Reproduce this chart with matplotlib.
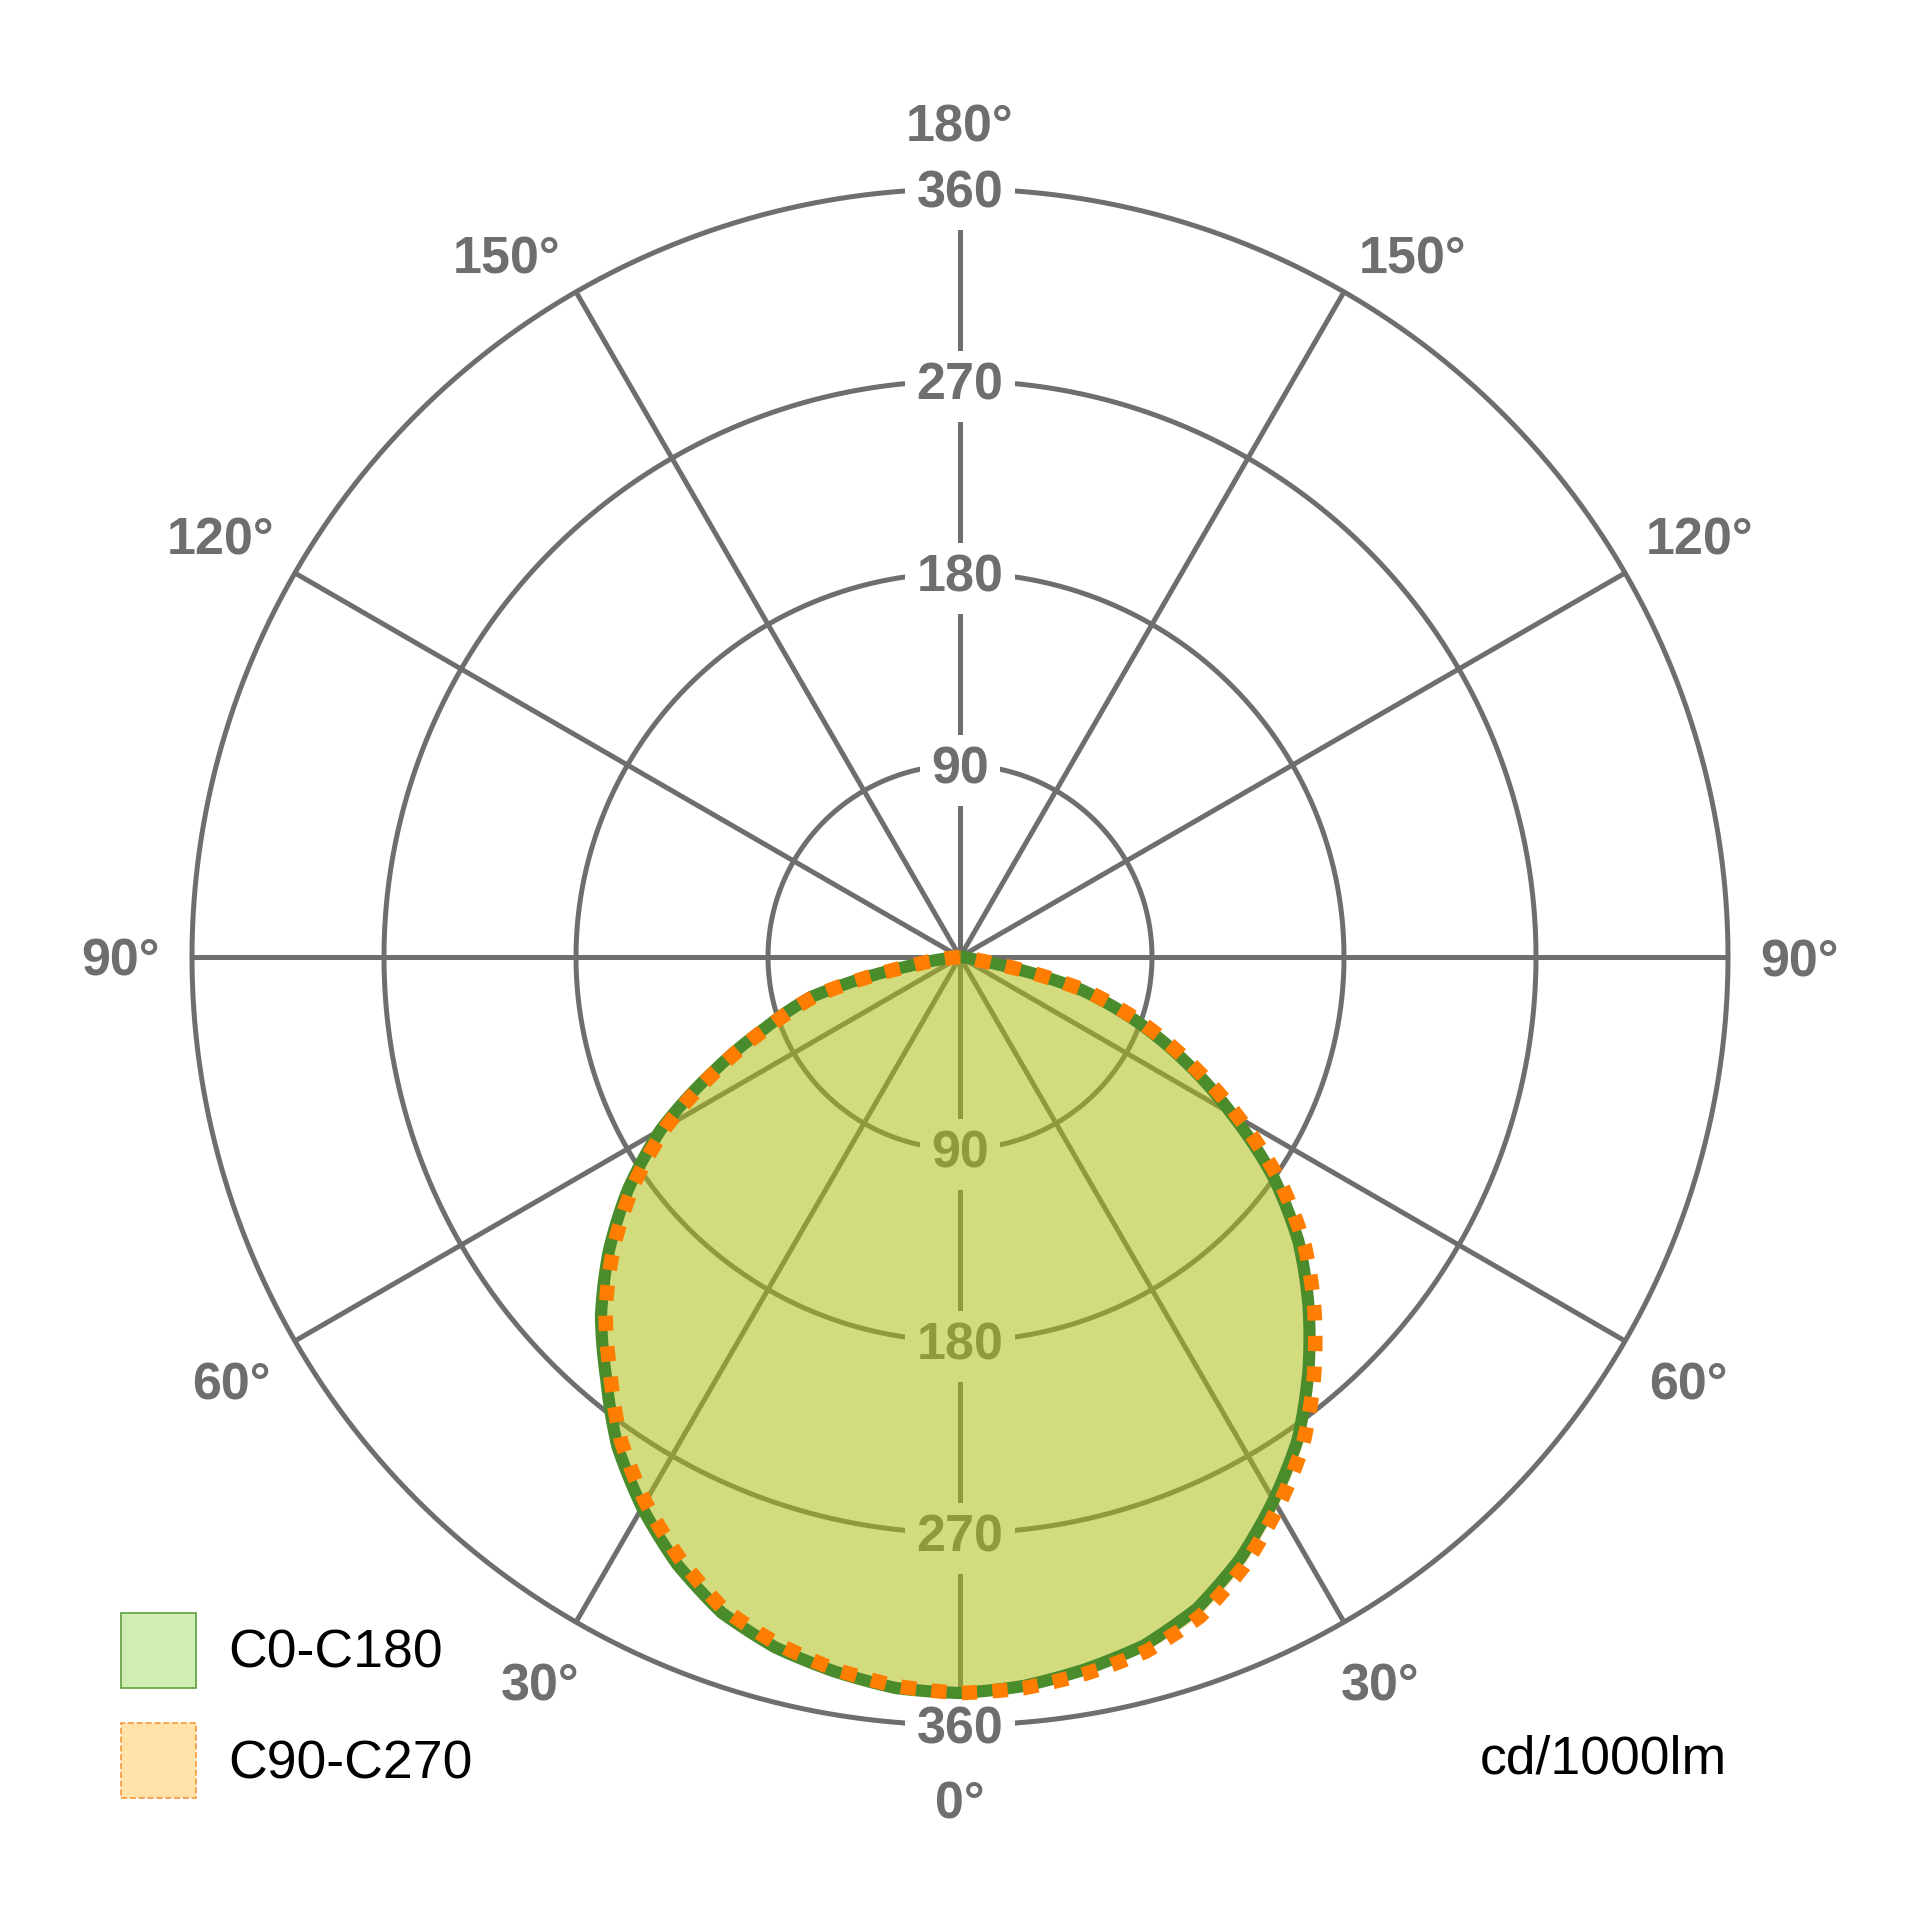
import numpy as np
import matplotlib
matplotlib.use("Agg")
import matplotlib.pyplot as plt
from matplotlib.patches import Patch

# ---------------- data (cd/1000lm) ----------------
gamma_deg = [0, 5, 10, 15, 20, 25, 30, 35, 40, 45, 50, 55, 60, 65, 70, 75, 80, 85, 90]
# C0-C180 plane : right half (C0) and left half (C180)
c0_cd   = [345, 343, 339, 334, 325, 311, 294, 276, 254, 231, 207, 179, 147, 117, 88, 58, 8, 0, 0]
c180_cd = [345, 344, 340, 335, 327, 314, 298, 280, 258, 238, 215, 190, 162, 128, 97, 72, 24, 0, 0]
# C90-C270 plane : right half (C90) and left half (C270)
c90_cd  = [346, 344, 341, 337, 329, 315, 298, 280, 258, 235, 211, 183, 151, 120, 91, 61, 10, 0, 0]
c270_cd = [345, 343, 339, 333, 325, 311, 295, 277, 255, 235, 212, 187, 159, 126, 95, 70, 22, 0, 0]

ring_values = [90, 180, 270, 360]
angle_ticks = [0, 30, 60, 90, 120, 150, 180]
angle_labels = ["0°", "30°", "60°", "90°", "120°", "150°", "180°"]
series_names = ["C0-C180", "C90-C270"]
unit_label = "cd/1000lm"

# ---------------- style / layout ----------------
GRAY = "#6e6e6e"
GREEN_LINE = "#4a8c2c"
ORANGE_LINE = "#ff7d00"
GREEN_FILL = "#81ca11"
ORANGE_FILL = "#ffaa1e"
FONT = "Liberation Sans"
LABEL_FS = 37.5
# (angle offset in degrees, radius in cd) used to place each angle label
label_place = {0: (0.0, 395), 30: (0.1, 392.5), 60: (-0.2, 395), 90: (0.0, 393.5),
               120: (-0.3, 399), 150: (-2.8, 392), 180: (0.0, 391)}

fig = plt.figure(figsize=(19.19, 19.20), dpi=100)
ax = fig.add_axes([192 / 1919, 195 / 1920, 1536 / 1919, 1536 / 1920], projection="polar")
ax.set_theta_zero_location("S")
ax.set_theta_direction(1)
ax.set_ylim(0, 360)
ax.grid(False)
ax.set_xticks([])
ax.set_yticks([])
ax.spines["polar"].set_visible(False)
ax.patch.set_visible(False)

# grid rings
full = np.linspace(0, 2 * np.pi, 721)
for rv in ring_values:
    ax.plot(full, np.full_like(full, rv), color=GRAY, lw=3.6, zorder=1, clip_on=False)

# spokes
for a in angle_ticks:
    for sgn in ([1] if a in (0, 180) else [1, -1]):
        t = np.deg2rad(sgn * a)
        ax.plot([t, t], [0, 360], color=GRAY, lw=3.6, zorder=1,
                solid_capstyle="butt", clip_on=False)

# radial value labels (top and bottom of the vertical axis)
for rv in ring_values:
    for th in (0.0, np.pi):
        ax.text(th, rv, str(rv), ha="center", va="center_baseline", fontsize=LABEL_FS,
                fontweight="bold", color=GRAY, family=FONT, zorder=2, clip_on=False,
                bbox=dict(boxstyle="square,pad=0.22", fc="white", ec="none"))

# angle labels
for a, lab in zip(angle_ticks, angle_labels):
    d, rr = label_place[a]
    for sgn in ([1] if a in (0, 180) else [1, -1]):
        ax.text(np.deg2rad(sgn * (a + d)), rr, lab, ha="center", va="center_baseline",
                fontsize=LABEL_FS, fontweight="bold", color=GRAY, family=FONT,
                clip_on=False, zorder=2)

# curves: left half (negative theta) then right half
g = np.array(gamma_deg, dtype=float)
theta = np.deg2rad(np.concatenate([-g[::-1], g[1:]]))
r_green = np.concatenate([np.array(c180_cd)[::-1], np.array(c0_cd)[1:]])
r_orange = np.concatenate([np.array(c270_cd)[::-1], np.array(c90_cd)[1:]])

fo = ax.fill(theta, r_orange, color=ORANGE_FILL, alpha=0.30, lw=0, zorder=3)[0]
fg = ax.fill(theta, r_green, color=GREEN_FILL, alpha=0.35, lw=0, zorder=3.1)[0]
lg = ax.plot(theta, r_green, color=GREEN_LINE, lw=8.8, zorder=4, solid_joinstyle="round")[0]
lo = ax.plot(theta, r_orange, color=ORANGE_LINE, lw=10.5, linestyle=(0, (1.05, 1.05)),
             dash_capstyle="butt", zorder=5)[0]
# draw segments along polar coordinates (curved), as polar grid lines are
for art in (fo, fg, lg, lo):
    art.get_path()._interpolation_steps = 24

# legend
handles = [Patch(facecolor="#d0eeb4", edgecolor="#5f9e3f", lw=1.2),
           Patch(facecolor="#ffe3a8", edgecolor="#f39a3c", lw=1.2, linestyle="--")]
fig.legend(handles=handles, labels=series_names, loc="upper left",
           bbox_to_anchor=(121 / 1919, 1 - 1613 / 1920), frameon=False,
           prop={"family": FONT, "size": 38.5}, handlelength=1.4, handleheight=1.78,
           handletextpad=0.6, labelspacing=0.66, borderpad=0, borderaxespad=0)

fig.text(1727 / 1919, 1 - 1760 / 1920, unit_label, ha="right", va="center",
         fontsize=38.5, family=FONT, color="black")

fig.savefig("out.png", dpi=100)
